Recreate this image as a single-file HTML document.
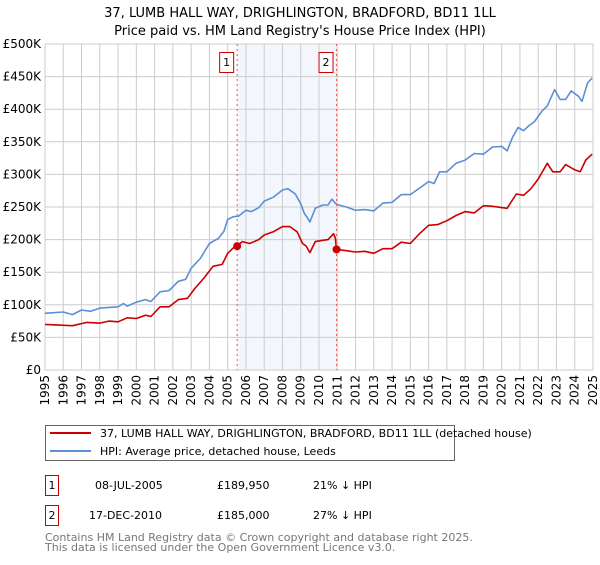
<!DOCTYPE html>
<html><head><meta charset="utf-8">
<style>
body{margin:0;background:#fff;font-family:"Liberation Sans","DejaVu Sans",sans-serif;}
svg text{font-family:"DejaVu Sans","Liberation Sans",sans-serif;}
</style></head>
<body>
<svg id="chart" width="600" height="560" xmlns="http://www.w3.org/2000/svg">
<text x="300" y="17" text-anchor="middle" font-size="13">37, LUMB HALL WAY, DRIGHLINGTON, BRADFORD, BD11 1LL</text>
<text x="300" y="35" text-anchor="middle" font-size="13">Price paid vs. HM Land Registry's House Price Index (HPI)</text>
<g id="plot"></g>
<g>
<rect x="45.5" y="425.5" width="409" height="35" fill="#fff" stroke="#666"/>
<line x1="50" y1="433" x2="91" y2="433" stroke="#cc0000" stroke-width="2"/>
<text x="100" y="437" font-size="11">37, LUMB HALL WAY, DRIGHLINGTON, BRADFORD, BD11 1LL (detached house)</text>
<line x1="50" y1="451" x2="91" y2="451" stroke="#5b8fd6" stroke-width="2"/>
<text x="100" y="455" font-size="11">HPI: Average price, detached house, Leeds</text>
</g>
<g font-size="11">
<rect x="45.5" y="475.5" width="6" height="1" fill="none"/>
<rect x="45.5" y="475.5" width="6" height="0" fill="none"/>
<rect x="45.5" y="475.5" width="6.5" height="0" fill="none"/>
<rect x="45.5" y="475.5" width="7" height="0"/>
<rect x="45.5" y="475.5" width="6" height="0"/>
<rect x="45.5" y="475.5" width="6" height="0"/>
<rect x="45.5" y="475.5" width="6" height="0"/>
<rect x="45.5" y="475.5" width="6" height="0"/>
<rect x="45.5" y="475.5" width="13" height="20" fill="#fff" stroke="#cc0000"/>
<text x="52" y="489" text-anchor="middle">1</text>
<text x="95" y="489">08-JUL-2005</text>
<text x="217" y="489">£189,950</text>
<text x="313" y="489">21% ↓ HPI</text>
<rect x="45.5" y="505.5" width="13" height="20" fill="#fff" stroke="#cc0000"/>
<text x="52" y="519" text-anchor="middle">2</text>
<text x="89" y="519">17-DEC-2010</text>
<text x="217" y="519">£185,000</text>
<text x="313" y="519">27% ↓ HPI</text>
</g>
<text x="45" y="541" font-size="11" fill="#777">Contains HM Land Registry data © Crown copyright and database right 2025.</text>
<text x="45" y="551" font-size="11" fill="#777">This data is licensed under the Open Government Licence v3.0.</text>
</svg>
<script>
const hpiYears=[1995,1996,1996.5,1997,1997.5,1998,1999,1999.3,1999.5,2000,2000.5,2000.8,2001.3,2001.8,2002.3,2002.7,2003,2003.5,2004,2004.5,2004.8,2005,2005.3,2005.6,2006,2006.3,2006.7,2007,2007.5,2008,2008.3,2008.7,2009,2009.2,2009.4,2009.5,2009.8,2010.2,2010.5,2010.7,2010.96,2011.5,2012,2012.5,2013,2013.5,2014,2014.5,2015,2015.5,2016,2016.3,2016.6,2017,2017.5,2018,2018.5,2019,2019.5,2020,2020.3,2020.6,2020.9,2021.2,2021.5,2021.8,2022.2,2022.5,2022.9,2023.2,2023.5,2023.8,2024.2,2024.4,2024.7,2024.95];
const hpiValues=[87,89,85,92,90,95,97,102,98,104,108,105,120,122,136,139,156,171,194,202,213,231,235,236,245,243,249,259,265,276,278,270,255,240,232,227,248,253,253,262,254,250,245,246,244,256,257,269,269,279,289,286,304,304,317,322,332,331,342,343,336,357,372,367,375,381,397,405,430,415,415,428,420,412,440,448];
const priceYears=[1995,1996.5,1997.3,1998,1998.5,1999,1999.5,2000,2000.5,2000.8,2001.3,2001.8,2002.3,2002.8,2003.2,2003.7,2004.2,2004.7,2005,2005.3,2005.52,2005.8,2006.2,2006.7,2007,2007.5,2008,2008.4,2008.8,2009.1,2009.3,2009.5,2009.8,2010.2,2010.5,2010.8,2010.9,2010.96,2011.5,2012,2012.5,2013,2013.5,2014,2014.5,2015,2015.5,2016,2016.5,2017,2017.5,2018,2018.5,2019,2019.5,2020.3,2020.8,2021.2,2021.6,2022,2022.5,2022.8,2023.2,2023.5,2024,2024.3,2024.6,2024.95];
const priceValues=[70,68,73,72,75,74,80,79,84,82,97,97,108,110,125,141,159,162,179,187,190,197,194,200,207,212,220,220,212,194,190,180,197,199,200,209,202,185,183,181,182,179,186,186,196,194,209,222,223,229,237,243,241,252,251,248,270,268,278,293,317,304,304,315,307,304,322,331];
const saleYears=[2005.52,2010.96];
const saleValues=[189.95,185];
const saleLabels=["1","2"];
const yTicks=[0,50,100,150,200,250,300,350,400,450,500];
const yTickLabels=["£0","£50K","£100K","£150K","£200K","£250K","£300K","£350K","£400K","£450K","£500K"];
const xTicks=[1995,1996,1997,1998,1999,2000,2001,2002,2003,2004,2005,2006,2007,2008,2009,2010,2011,2012,2013,2014,2015,2016,2017,2018,2019,2020,2021,2022,2023,2024,2025];

const X0=45,X1=593,Y0=370,Y1=44;
const xs=y=>X0+(y-1995)/30*(X1-X0);
const ys=v=>Y0-v/500*(Y0-Y1);
const NS="http://www.w3.org/2000/svg";
const plot=document.getElementById('plot');
function mk(t,a,p){const e=document.createElementNS(NS,t);for(const k in a)e.setAttribute(k,a[k]);(p||plot).appendChild(e);return e;}

const shade=mk('rect',{x:xs(saleYears[0]),y:Y1,width:xs(saleYears[1])-xs(saleYears[0]),height:Y0-Y1,fill:'#eef3fc',opacity:0.7});


yTicks.forEach((t,i)=>{
 const l=mk('line',{x1:X0,x2:X1,y1:ys(t),y2:ys(t),stroke:'#cccccc'});
 
 
 const tx=mk('text',{x:X0-4,y:ys(t)+4,'text-anchor':'end','font-size':12});
 
 
 tx.textContent=yTickLabels[i];
});
xTicks.forEach(t=>{
 const l=mk('line',{x1:xs(t),x2:xs(t),y1:Y1,y2:Y0,stroke:'#cccccc'});
 
 
 const tx=mk('text',{x:0,y:0,'text-anchor':'end','font-size':12,transform:`translate(${xs(t)+4},${Y0+5}) rotate(-90)`});
 
 
 tx.textContent=t;
});
const fr=mk('rect',{x:X0,y:Y1,width:X1-X0,height:Y0-Y1,fill:'none',stroke:'#cccccc'});


function line(xv,yv,c,n){
 const d=xv.map((x,i)=>(i?'L':'M')+xs(x).toFixed(1)+','+ys(yv[i]).toFixed(1)).join('');
 const p=mk('path',{d:d,fill:'none',stroke:c,'stroke-width':1.6,'stroke-linejoin':'round'});
 
 
}
line(hpiYears,hpiValues,'#5b8fd6','hpi-line');
line(priceYears,priceValues,'#cc0000','price-paid-line');
saleYears.forEach((s,i)=>{
 const v=mk('line',{x1:xs(s),x2:xs(s),y1:Y1,y2:Y0,stroke:'#ee5555','stroke-dasharray':'2,3'});
 
 
 const c=mk('circle',{cx:xs(s),cy:ys(saleValues[i]),r:4,fill:'#cc0000'});
 
 
 const b=mk('rect',{x:xs(s)-17.5,y:52.5,width:14,height:20,fill:'#fff',stroke:'#cc0000'});
 
 
 const t=mk('text',{x:xs(s)-10.5,y:66,'text-anchor':'middle','font-size':11});
 
 
 t.textContent=saleLabels[i];
});
</script>
</body></html>
